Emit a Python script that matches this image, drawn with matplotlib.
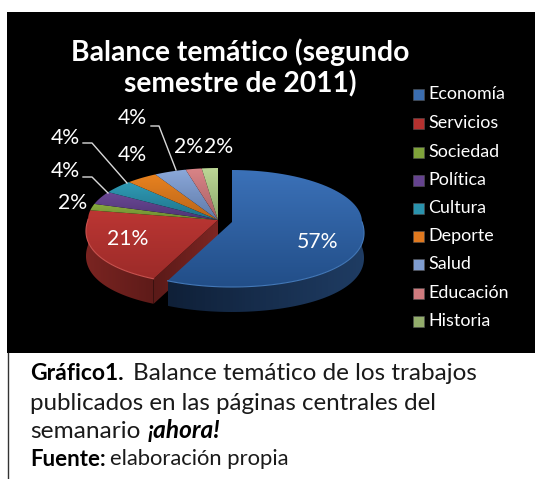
import numpy as np
import matplotlib
matplotlib.use('Agg')
import matplotlib.pyplot as plt
from matplotlib.colors import to_rgb
from matplotlib.patches import Polygon, Rectangle

plt.rcParams['font.family'] = ['Lato', 'DejaVu Sans']

categorias = ['Economía', 'Servicios', 'Sociedad', 'Política', 'Cultura',
              'Deporte', 'Salud', 'Educación', 'Historia']
valores = [57, 21, 2, 4, 4, 4, 4, 2, 2]
cores_claras = ['#3b71b8', '#bb3633', '#8aad3f', '#6b4896', '#2f9ab5',
                '#e8821f', '#8ba8da', '#d98487', '#bcd696']
cores_escuras = ['#224e88', '#9c2b29', '#6b8a30', '#4f3474', '#1f7288',
                 '#b8641a', '#5f7aa8', '#a86064', '#8ea86c']
cores_legenda = ['#3a6db0', '#b5312f', '#7fa33a', '#65438f', '#2a93ad',
                 '#e0791f', '#7e9cd0', '#cf7b7e', '#93ad6c']

# posicoes dos rotulos em pixels
rotulos_x = [318, 128, 73, 65, 65, 132, 132, 189, 219]
rotulos_y = [242, 239, 203, 171, 138, 155, 118, 147, 147]

fig = plt.figure(figsize=(5.35, 4.79), dpi=100, facecolor='white')
ax = fig.add_axes([0, 0, 1, 1])
ax.axis('off')


def borda(cx, cy, theta):
    # theta em graus, sentido horario a partir do topo
    t = np.radians(theta)
    c = np.cos(t)
    k = 1 + 0.18 * np.maximum(0, -c)
    ry = np.where(c > 0, 52, 65)
    return cx + 130 * np.sin(t) * k, cy - ry * c


def gradiente(pts, cor1, cor2, vertical=True, z=2):
    pts = np.array(pts)
    x0, y0 = pts.min(axis=0)
    x1, y1 = pts.max(axis=0)
    c1, c2 = np.array(to_rgb(cor1)), np.array(to_rgb(cor2))
    f = np.linspace(0, 1, 64)[:, None]
    img = c1 * (1 - f) + c2 * f
    img = img[:, None, :] if vertical else img[None, :, :]
    im = ax.imshow(img, extent=(x0, x1, y1, y0), origin='upper', aspect='auto', zorder=z)
    p = Polygon(pts, closed=True, transform=ax.transData, fc='none', ec='none')
    ax.add_patch(p)
    im.set_clip_path(p)


ax.add_patch(Rectangle((7, 12), 528, 341, fc='black', ec='none', zorder=0))
ax.plot([7.5, 7.5], [353, 479], color='#333333', lw=1, zorder=0)

limites = np.concatenate([[0], np.cumsum(valores)]) * 3.6
fatias = []
for i in range(len(valores)):
    a1, a2 = limites[i], limites[i + 1]
    cx, cy = (232, 222) if i == 0 else (218, 220)
    th = np.linspace(a1, a2, 80)
    bx, by = borda(cx, cy, th)
    topo = [(cx, cy)] + list(zip(bx, by))
    fatias.append((cx, cy, a1, a2, topo))

prof = 25

# Servicios: face do corte e parede
cx, cy, a1, a2, topo = fatias[1]
bx, by = borda(cx, cy, a1)
gradiente([(cx, cy), (bx, by), (bx, by + prof), (cx, cy + prof)], '#5a1a18', '#7e2623', False, 2)
th = np.linspace(a1, 270, 50)
bx, by = borda(cx, cy, th)
parede = list(zip(bx, by)) + list(zip(bx[::-1], by[::-1] + prof))
gradiente(parede, '#7a2421', '#5e1b19', False, 2)

for i in range(1, len(valores)):
    gradiente(fatias[i][4], cores_claras[i], cores_escuras[i], True, 3)

bx, by = borda(cx, cy, np.linspace(a1, a2 - 10, 60))
ax.plot(bx, by, color='#c9524f', lw=0.8, zorder=3)

# Economia por cima
cx, cy, a1, a2, topo = fatias[0]
th = np.linspace(90, a2, 80)
bx, by = borda(cx, cy, th)
parede = list(zip(bx, by)) + list(zip(bx[::-1], by[::-1] + prof))
gradiente(parede, '#0f2038', '#1f3c63', False, 4)
gradiente(topo, cores_claras[0], cores_escuras[0], True, 5)
ax.plot(bx, by, color='#4378b8', lw=0.8, zorder=5)

# linhas de chamada
chamadas = [[(83, 177), (92, 177), (108, 193)],
            [(83, 143), (92, 143), (127, 183)],
            [(151, 126), (159, 126), (176, 170)]]
for linha in chamadas:
    lx, ly = zip(*linha)
    ax.plot(lx, ly, color='#d9d9d9', lw=1, zorder=6)

for v, x, y in zip(valores, rotulos_x, rotulos_y):
    ax.text(x, y, f'{v}%', color='white', fontsize=15.2, ha='center', va='center', zorder=7)

ax.text(240, 52, 'Balance temático (segundo', color='white', fontsize=20.3, fontweight='bold',
        ha='center', va='center', zorder=7)
ax.text(240, 84, 'semestre de 2011)', color='white', fontsize=20.3, fontweight='bold',
        ha='center', va='center', zorder=7)

# legenda
legenda_y = [94, 123, 152, 180, 208, 236, 264, 293, 321]
for nome, cor, y in zip(categorias, cores_legenda, legenda_y):
    ax.add_patch(Rectangle((412.5, y - 5.5), 11, 11, fc=cor, ec='#555555', lw=0.4, zorder=7))
    ax.text(428, y, nome, color='white', fontsize=12.9, ha='left', va='center', zorder=7)

# legenda do grafico
ax.text(30, 373, 'Gráfico1.', color='black', fontsize=16.5, fontweight='bold', va='center')
ax.text(133, 373, 'Balance temático de los trabajos', color='#1a1a1a', fontsize=17.5, va='center')
ax.text(30, 403, 'publicados en las páginas centrales del', color='#1a1a1a', fontsize=17.4, va='center')
ax.text(30, 431, 'semanario', color='#1a1a1a', fontsize=17.6, va='center')
ax.text(148, 431, '¡ahora!', color='black', fontsize=17.6, fontweight='bold', style='italic', va='center')
ax.text(30, 459, 'Fuente:', color='black', fontsize=16, fontweight='bold', va='center')
ax.text(110, 459, 'elaboración propia', color='#1a1a1a', fontsize=15.8, va='center')

ax.set_xlim(0, 535)
ax.set_ylim(479, 0)
fig.savefig('out.png', dpi=100, facecolor='white')
